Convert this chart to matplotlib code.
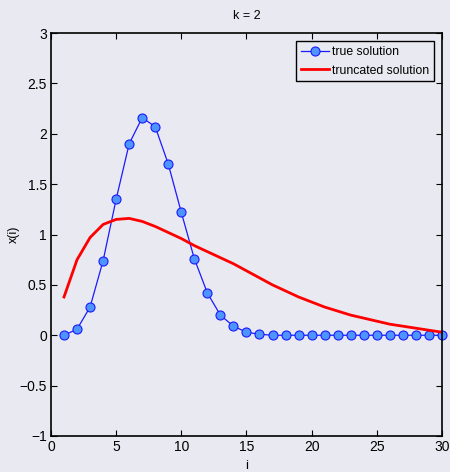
import matplotlib
matplotlib.use("Agg")
import matplotlib.pyplot as plt

plt.rcParams['font.family'] = ['Liberation Sans', 'DejaVu Sans']

i_vals = list(range(1, 31))
true_sol = [0.0, 0.06, 0.28, 0.74, 1.35, 1.90, 2.16, 2.07, 1.70, 1.22,
            0.76, 0.42, 0.20, 0.09, 0.03, 0.01, 0.0, 0.0, 0.0, 0.0,
            0.0, 0.0, 0.0, 0.0, 0.0, 0.0, 0.0, 0.0, 0.0, 0.0]
trunc_sol = [0.38, 0.75, 0.97, 1.10, 1.15, 1.16, 1.13, 1.08, 1.02, 0.96,
             0.89, 0.83, 0.77, 0.71, 0.64, 0.57, 0.50, 0.44, 0.38, 0.33,
             0.28, 0.24, 0.20, 0.17, 0.14, 0.11, 0.09, 0.07, 0.05, 0.03]

bg = '#e9e9f1'
fig = plt.figure(figsize=(4.5, 4.72), dpi=100, facecolor=bg)
ax = fig.add_axes([0.1133, 0.0763, 0.8687, 0.8537])
ax.set_facecolor(bg)

ax.plot(i_vals, true_sol, '-o', color='#1a1aff', lw=0.9,
        markerfacecolor='#4d94ff', markeredgecolor='#1a1aff',
        markersize=6.5, markeredgewidth=0.8, label='true solution', clip_on=False)
ax.plot(i_vals, trunc_sol, '-', color='#ff0000', lw=2, label='truncated solution')

ax.set_xlim(0, 30)
ax.set_ylim(-1, 3)
ax.set_xticks([0, 5, 10, 15, 20, 25, 30])
ax.set_yticks([-1, -0.5, 0, 0.5, 1, 1.5, 2, 2.5, 3])
ax.set_yticklabels(['\u22121', '\u22120.5', '0', '0.5', '1', '1.5', '2', '2.5', '3'])
ax.tick_params(direction='in', top=True, right=True, length=4, width=0.8,
               labelsize=10, pad=3)
for s in ax.spines.values():
    s.set_linewidth(1.2)

ax.set_title('k = 2', fontsize=9, pad=10)
ax.set_xlabel('i', fontsize=9.5, labelpad=4)
ax.set_ylabel('x(i)', fontsize=9, labelpad=0)

leg = ax.legend(loc='upper right', fontsize=8.8, frameon=True, fancybox=False,
                facecolor=bg, edgecolor='black', framealpha=1,
                borderpad=0.4, handlelength=2.3, handletextpad=0.2,
                labelspacing=0.55, borderaxespad=0.65)
leg.get_frame().set_linewidth(1.0)

fig.savefig('out.png', dpi=100, facecolor=bg)
